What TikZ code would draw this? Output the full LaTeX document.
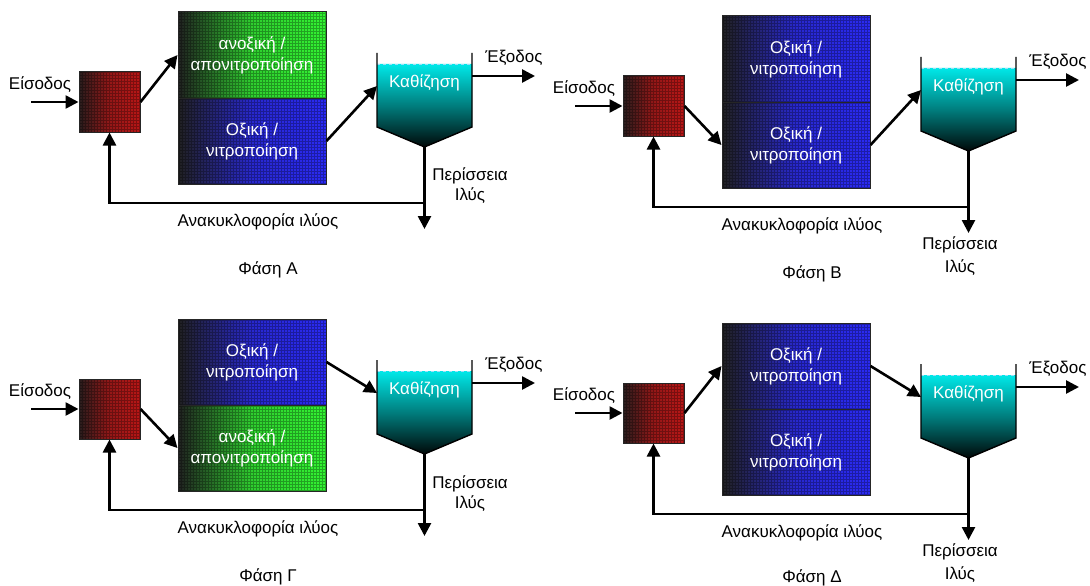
\documentclass[tikz,border=0pt]{standalone}
\usepackage{fontspec}
\setmainfont{Liberation Sans}
\usetikzlibrary{arrows.meta}
\definecolor{darkL}{RGB}{32,32,32}
\definecolor{grn}{RGB}{50,245,50}
\definecolor{blu}{RGB}{42,42,245}
\definecolor{redR}{RGB}{185,22,22}
\definecolor{redL}{RGB}{40,28,28}
\definecolor{cyT}{RGB}{0,232,232}
\definecolor{cyM}{RGB}{0,125,125}
\definecolor{cyB}{RGB}{0,8,8}
\tikzset{
 lbl/.style={font=\fontsize{17}{20}\selectfont, align=center, inner sep=0pt},
 flow/.style={line width=2.6pt, -{Triangle[length=13pt,width=13pt]}},
 grid overlay/.style={path picture={\draw[name prefix=, black, opacity=0.3, line width=0.8pt, step=3pt]
   (path picture bounding box.south west) grid (path picture bounding box.north east);}},
 tank/.style={draw=black!85, line width=1pt, minimum width=148pt, minimum height=86pt,
   inner sep=0pt, text=white, align=center, font=\fontsize{17}{21}\selectfont, grid overlay},
 anox/.style={left color=darkL, right color=grn, middle color=grn!82!darkL},
 aer/.style={left color=darkL, right color=blu, middle color=blu!82!darkL},
 mixer/.style={draw=black!85, line width=1pt, minimum width=61pt, minimum height=60pt,
   inner sep=0pt, left color=redL, right color=redR, middle color=redR!75!redL, grid overlay},
}
\newcommand\plant[6]{%
 \node[mixer] (box) at (109.5,102) {};
 \node[tank,#1] (up) at (252,55) {#2};
 \node[tank,#3] (lo) at (252,141) {#4};
 \coordinate (wl) at (377,53); \coordinate (wr) at (472,53);
 \coordinate (sl) at (377,127); \coordinate (sr) at (472,127);
 \coordinate (tip) at (424.5,147);
 \coordinate (ws) at (377,64); \coordinate (we) at (472,64);
 \path[top color=cyT, bottom color=cyB, middle color=cyM] (ws) -- (we) -- (sr) -- (tip) -- (sl) -- cycle;
 \draw[white!60!cyan, dashed, line width=0.7pt] (ws) -- (we);
 \draw[line width=1.4pt, line join=miter] (wl) -- (sl) -- (tip) -- (sr) -- (wr);
 \node[lbl, text=white] (setl) at (424.5,83) {Καθίζηση};
 \coordinate (inl) at (31,102);
 \coordinate (sin) at (377,86);
 \coordinate (so) at (472,76); \coordinate (out) at (535,76);
 \coordinate (j) at (424.5,203); \coordinate (w) at (424.5,229);
 \node[lbl] (inlbl) at (40,85) {Είσοδος};
 \node[lbl] (outlbl) at (514,58) {Έξοδος};
 \node[lbl] (rec) at (258,222) {Ανακυκλοφορία ιλύος};
 \draw[flow] (inl) -- (box.west);
 \draw[flow] (box.east) -- (#5.west);
 \draw[flow] (#6.east) -- (sin);
 \draw[flow] (so) -- (out);
 \draw[flow] (tip) -- (w);
 \draw[flow] (j) -| (box.south);
}
\begin{document}
\begin{tikzpicture}[x=1pt,y=-1pt]
\fill[white] (0,0) rectangle (1090,586);
\useasboundingbox (0,0) rectangle (1090,586);
\begin{scope}[name prefix=A-]
 \plant{anox}{ανοξική /\\απονιτροποίηση}{aer}{Οξική /\\νιτροποίηση}{up}{lo}
 \node[lbl] (ex) at (470,186) {Περίσσεια\\Ιλύς};
 \node[lbl] (ph) at (268,270) {Φάση Α};
\end{scope}
\begin{scope}[shift={(544,4)},name prefix=B-]
 \plant{aer}{Οξική /\\νιτροποίηση}{aer}{Οξική /\\νιτροποίηση}{lo}{lo}
 \node[lbl] (ex) at (416,252) {Περίσσεια\\[3pt]Ιλύς};
 \node[lbl] (ph) at (268,270) {Φάση Β};
\end{scope}
\begin{scope}[shift={(0,307)},name prefix=C-]
 \plant{aer}{Οξική /\\νιτροποίηση}{anox}{ανοξική /\\απονιτροποίηση}{lo}{up}
 \node[lbl] (ex) at (470,187) {Περίσσεια\\Ιλύς};
 \node[lbl] (ph) at (268,270) {Φάση Γ};
\end{scope}
\begin{scope}[shift={(544,311)},name prefix=D-]
 \plant{aer}{Οξική /\\νιτροποίηση}{aer}{Οξική /\\νιτροποίηση}{up}{up}
 \node[lbl] (ex) at (416,252) {Περίσσεια\\[3pt]Ιλύς};
 \node[lbl] (ph) at (268,267) {Φάση Δ};
\end{scope}
\end{tikzpicture}
\end{document}
